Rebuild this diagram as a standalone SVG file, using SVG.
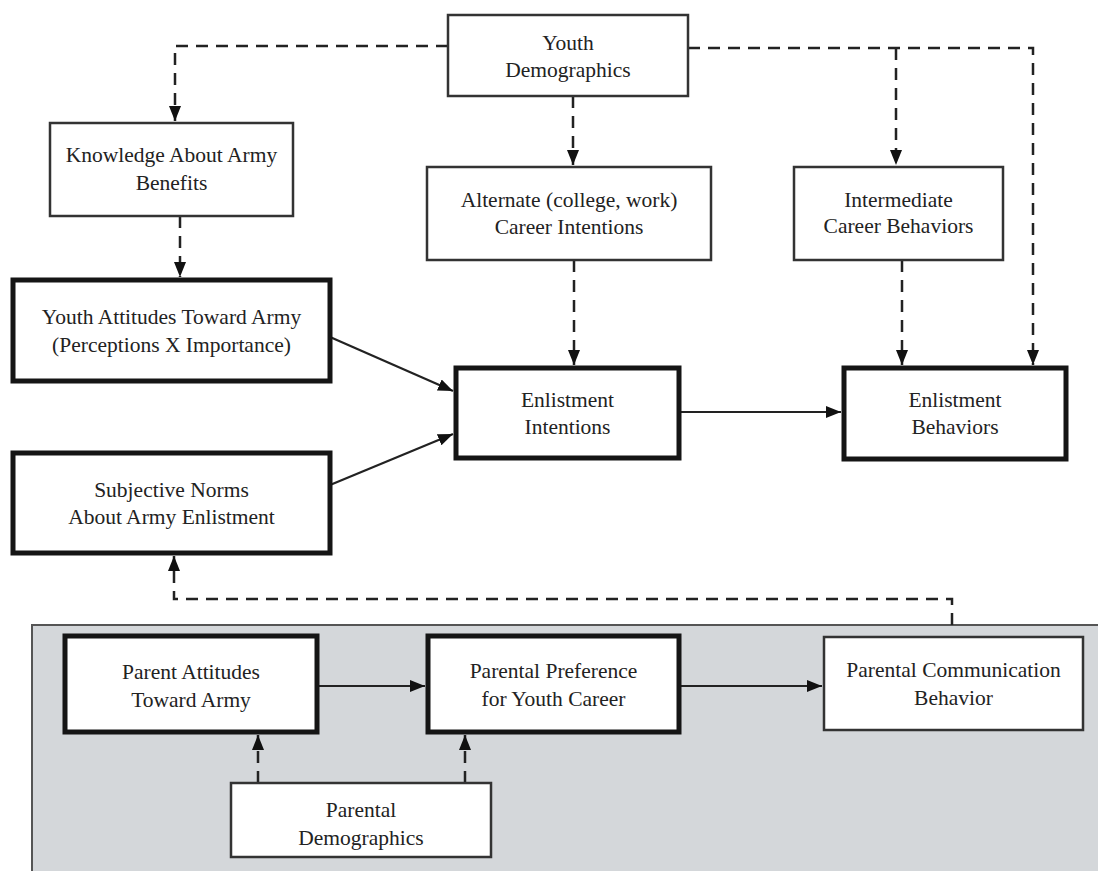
<svg xmlns="http://www.w3.org/2000/svg" width="1098" height="871" viewBox="0 0 1098 871">
<style>
.thin{fill:#fff;stroke:#333;stroke-width:2.5}
.thick{fill:#fff;stroke:#151515;stroke-width:5}
.t{font-family:"Liberation Serif","Times New Roman",serif;font-size:21.5px;fill:#222;text-anchor:middle}
.d{fill:none;stroke:#222;stroke-width:2.5;stroke-dasharray:12 8}
.s{fill:none;stroke:#222;stroke-width:2.2}
</style>
<defs>
<marker id="ah" markerUnits="userSpaceOnUse" markerWidth="16" markerHeight="12" refX="15" refY="6" orient="auto">
<path d="M0,0 L15,6 L0,12 z" fill="#111" stroke="none"/>
</marker>
</defs>
<rect id="parent-panel" x="32" y="625" width="1070" height="250" fill="#d4d7da" stroke="#555" stroke-width="2"/>
<g id="connectors">
<path class="d" d="M448,46 H175 V121" marker-end="url(#ah)"/>
<path class="d" d="M688,48 H1033 V365" marker-end="url(#ah)"/>
<path class="d" d="M896,48 V165" marker-end="url(#ah)"/>
<path class="d" d="M573,96 V165" marker-end="url(#ah)"/>
<path class="d" d="M180,216 V277" marker-end="url(#ah)"/>
<path class="d" d="M574,260 V365" marker-end="url(#ah)"/>
<path class="d" d="M902,260 V365" marker-end="url(#ah)"/>
<path class="d" d="M952,625 V599 H174 V556" marker-end="url(#ah)"/>
<path class="d" d="M258,783 V735" marker-end="url(#ah)"/>
<path class="d" d="M465,783 V735" marker-end="url(#ah)"/>
<path class="s" d="M330,337 L453,391" marker-end="url(#ah)"/>
<path class="s" d="M330,485 L453,434" marker-end="url(#ah)"/>
<path class="s" d="M679,412 H841" marker-end="url(#ah)"/>
<path class="s" d="M317,686 H425" marker-end="url(#ah)"/>
<path class="s" d="M679,686 H822" marker-end="url(#ah)"/>
</g>
<g id="youth-demographics">
<rect class="thin" x="448" y="15" width="240" height="81"/>
<text class="t" x="568" y="50">Youth</text>
<text class="t" x="568" y="77">Demographics</text>
</g>
<g id="knowledge">
<rect class="thin" x="50" y="123" width="243" height="93"/>
<text class="t" x="171.5" y="162">Knowledge About Army</text>
<text class="t" x="171.5" y="190">Benefits</text>
</g>
<g id="alternate">
<rect class="thin" x="427" y="167" width="284" height="93"/>
<text class="t" x="569" y="207">Alternate (college, work)</text>
<text class="t" x="569" y="234">Career Intentions</text>
</g>
<g id="intermediate">
<rect class="thin" x="794" y="167" width="209" height="93"/>
<text class="t" x="898.5" y="207">Intermediate</text>
<text class="t" x="898.5" y="233">Career Behaviors</text>
</g>
<g id="youth-attitudes">
<rect class="thick" x="13" y="280" width="317" height="101"/>
<text class="t" x="171.5" y="324">Youth Attitudes Toward Army</text>
<text class="t" x="171.5" y="352">(Perceptions X Importance)</text>
</g>
<g id="subjective-norms">
<rect class="thick" x="13" y="453" width="317" height="100"/>
<text class="t" x="171.5" y="497">Subjective Norms</text>
<text class="t" x="171.5" y="524">About Army Enlistment</text>
</g>
<g id="enlistment-intentions">
<rect class="thick" x="456" y="368" width="223" height="90"/>
<text class="t" x="567.5" y="407">Enlistment</text>
<text class="t" x="567.5" y="434">Intentions</text>
</g>
<g id="enlistment-behaviors">
<rect class="thick" x="844" y="368" width="222" height="91"/>
<text class="t" x="955" y="407">Enlistment</text>
<text class="t" x="955" y="434">Behaviors</text>
</g>
<g id="parent-attitudes">
<rect class="thick" x="65" y="636" width="252" height="96"/>
<text class="t" x="191" y="679">Parent Attitudes</text>
<text class="t" x="191" y="707">Toward Army</text>
</g>
<g id="parental-preference">
<rect class="thick" x="428" y="636" width="251" height="96"/>
<text class="t" x="553.5" y="678">Parental Preference</text>
<text class="t" x="553.5" y="706">for Youth Career</text>
</g>
<g id="parental-communication">
<rect class="thin" x="824" y="637" width="259" height="93"/>
<text class="t" x="953.5" y="677">Parental Communication</text>
<text class="t" x="953.5" y="705">Behavior</text>
</g>
<g id="parental-demographics">
<rect class="thin" x="231" y="783" width="260" height="74"/>
<text class="t" x="361" y="817">Parental</text>
<text class="t" x="361" y="845">Demographics</text>
</g>
</svg>
